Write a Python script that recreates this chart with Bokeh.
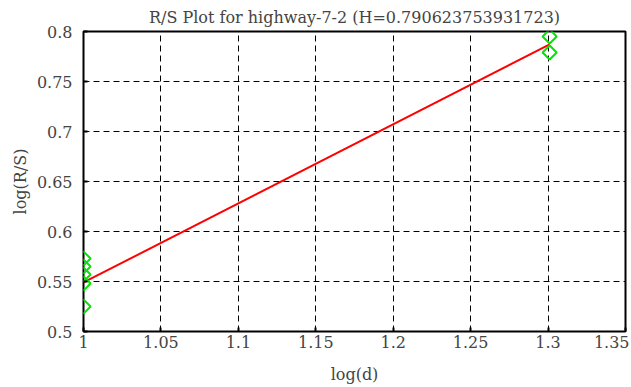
import math
from bokeh.plotting import figure
from bokeh.models import FixedTicker, Range1d
from bokeh.embed import file_html
from bokeh.resources import INLINE

# data
log_d = [1.0, 1.0, 1.0, 1.0, 1.0, 1.30103, 1.30103]
log_rs = [0.573, 0.565, 0.557, 0.548, 0.525, 0.795, 0.779]
H = 0.790623753931723
intercept = -0.2416
fit_x = [1.0, 1.30103]
fit_y = [H * x + intercept for x in fit_x]
x_ticks = [1, 1.05, 1.1, 1.15, 1.2, 1.25, 1.3, 1.35]
y_ticks = [0.5, 0.55, 0.6, 0.65, 0.7, 0.75, 0.8]

FONT = "DejaVu Serif"

p = figure(frame_width=542, frame_height=300, output_backend="svg", toolbar_location=None,
           x_range=Range1d(1, 1.35), y_range=Range1d(0.5, 0.8),
           title="R/S Plot for highway-7-2 (H=0.790623753931723)",
           min_border_left=83, min_border_right=4, min_border_top=30, min_border_bottom=55)

p.title.align = "center"
p.title.text_font = FONT
p.title.text_font_size = "16px"
p.title.text_font_style = "normal"
p.title.standoff = 10

for ax in (p.xaxis[0], p.yaxis[0]):
    ax.major_label_text_font = FONT
    ax.major_label_text_font_size = "16px"
    ax.axis_label_text_font = FONT
    ax.axis_label_text_font_size = "16px"
    ax.axis_label_text_font_style = "normal"
    ax.minor_tick_line_color = None
    ax.major_tick_in = 4
    ax.major_tick_out = 0
    ax.major_tick_line_width = 2
    ax.axis_line_color = None
    ax.major_tick_line_color = "black"

p.xaxis.major_label_standoff = 4
p.yaxis.major_label_standoff = 11
p.xaxis.axis_label_standoff = 14
p.yaxis.axis_label_standoff = 4

p.xaxis.axis_label = "log(d)"
p.yaxis.axis_label = "log(R/S)"
p.xaxis.ticker = FixedTicker(ticks=x_ticks)
p.yaxis.ticker = FixedTicker(ticks=y_ticks)
p.xaxis.major_label_overrides = {1: "1", 1.05: "1.05", 1.1: "1.1", 1.15: "1.15", 1.2: "1.2", 1.25: "1.25", 1.3: "1.3", 1.35: "1.35"}
p.yaxis.major_label_overrides = {0.5: "0.5", 0.55: "0.55", 0.6: "0.6", 0.65: "0.65", 0.7: "0.7", 0.75: "0.75", 0.8: "0.8"}

p.xgrid.grid_line_color = "black"
p.ygrid.grid_line_color = "black"
p.xgrid.grid_line_dash = "6 4"
p.ygrid.grid_line_dash = "6 4"
p.xgrid.grid_line_alpha = 1
p.ygrid.grid_line_alpha = 1

p.outline_line_color = "black"
p.outline_line_width = 2
p.outline_line_alpha = 1

p.line(fit_x, fit_y, line_color="red", line_width=2)
p.scatter(log_d, log_rs, marker="square", angle=math.pi / 4, size=10, fill_color=None,
          line_color="#00e600", line_width=2)

open("out.html", "w").write(file_html(p, INLINE))
